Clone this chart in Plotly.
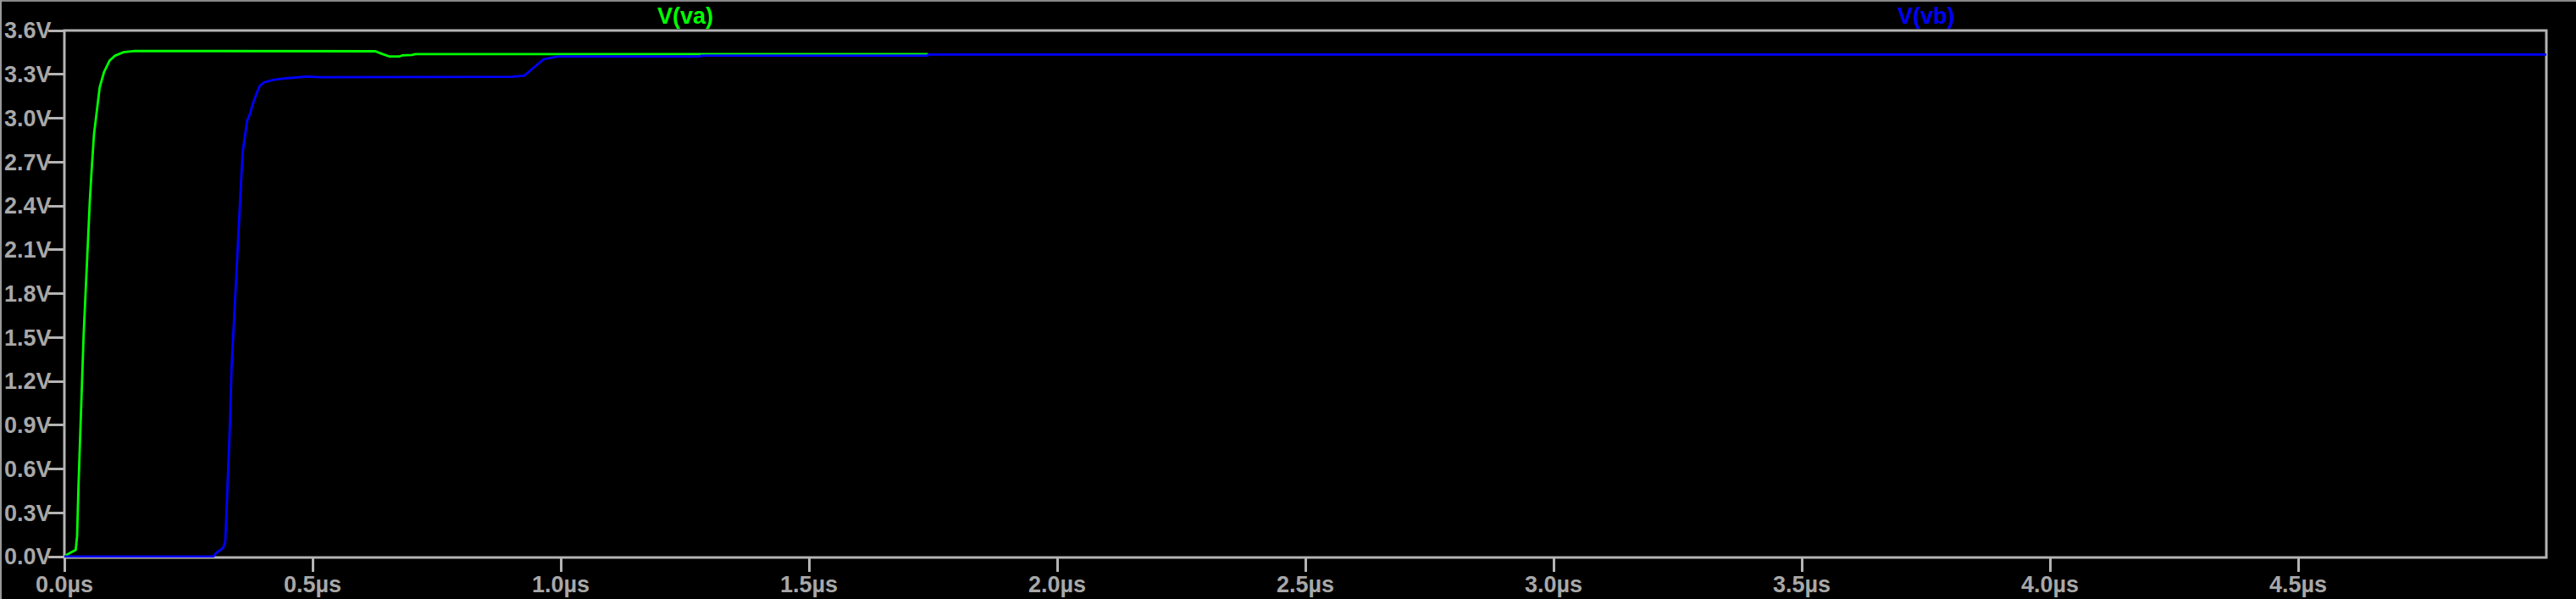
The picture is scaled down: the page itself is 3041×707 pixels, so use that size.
import plotly.graph_objects as go

# time (µs) and voltage (V) samples
t_va = [0, 0.0068, 0.0228, 0.0256, 0.0284, 0.0313, 0.0353, 0.0387, 0.0427, 0.0466,
        0.0512, 0.0552, 0.0597, 0.0654, 0.0711, 0.0796, 0.091, 0.102, 0.119, 0.142,
        0.626, 0.639, 0.655, 0.675, 0.681, 0.700, 0.707, 1.74]
v_va = [0, 0.017, 0.046, 0.14, 0.48, 0.826, 1.17, 1.51, 1.835, 2.13,
        2.43, 2.66, 2.89, 3.05, 3.21, 3.313, 3.394, 3.428, 3.451, 3.46,
        3.458, 3.441, 3.422, 3.422, 3.43, 3.433, 3.438, 3.438]

t_vb = [0, 0.2998, 0.3055, 0.3197, 0.3242, 0.3265, 0.330, 0.3339, 0.3367, 0.3402,
        0.3436, 0.347, 0.351, 0.3538, 0.3567, 0.3595, 0.364, 0.368, 0.3737, 0.3794,
        0.388, 0.3936, 0.4022, 0.422, 0.4505, 0.4886, 0.516, 0.89, 0.90, 0.926,
        0.9457, 0.9653, 0.979, 0.995, 1.281, 1.283, 1.739, 1.741, 5.0]
v_vb = [0, 0, 0.024, 0.058, 0.104, 0.276, 0.597, 0.941, 1.285, 1.514,
        1.743, 1.972, 2.248, 2.477, 2.614, 2.774, 2.889, 2.981, 3.027, 3.096,
        3.176, 3.221, 3.245, 3.263, 3.274, 3.285, 3.28, 3.28, 3.283, 3.29,
        3.349, 3.403, 3.413, 3.422, 3.422, 3.428, 3.428, 3.436, 3.436]

x_tickvals = [0, 0.5, 1.0, 1.5, 2.0, 2.5, 3.0, 3.5, 4.0, 4.5]
x_ticktext = ["0.0µs", "0.5µs", "1.0µs", "1.5µs", "2.0µs", "2.5µs", "3.0µs", "3.5µs", "4.0µs", "4.5µs"]
y_tickvals = [0, 0.3, 0.6, 0.9, 1.2, 1.5, 1.8, 2.1, 2.4, 2.7, 3.0, 3.3, 3.6]
y_ticktext = ["0.0V", "0.3V", "0.6V", "0.9V", "1.2V", "1.5V", "1.8V", "2.1V", "2.4V", "2.7V", "3.0V", "3.3V", "3.6V"]

trace_names = ["V(va)", "V(vb)"]
trace_colors = ["#00ff00", "#0000ff"]

FRAME = "#b4b4b4"
LABEL = "#a8a8a8"
FONT = "Liberation Sans, Arial, sans-serif"
FS = 27

fig = go.Figure()
fig.add_trace(go.Scatter(x=t_va, y=v_va, mode="lines", name=trace_names[0],
                         line=dict(color=trace_colors[0], width=2.8)))
fig.add_trace(go.Scatter(x=t_vb, y=v_vb, mode="lines", name=trace_names[1],
                         line=dict(color=trace_colors[1], width=2.8)))

fig.update_layout(
    width=3041, height=707, autosize=False,
    margin=dict(l=76, r=35, t=36, b=49, pad=0),
    paper_bgcolor="black", plot_bgcolor="black",
    showlegend=False,
    font=dict(family=FONT, size=FS, color=LABEL, weight="bold"),
    xaxis=dict(range=[0, 5], tickmode="array", tickvals=x_tickvals, ticktext=x_ticktext,
               showgrid=False, zeroline=False, showline=False, automargin=False,
               ticks="outside", ticklen=16, tickwidth=3, tickcolor=FRAME,
               tickfont=dict(family=FONT, size=FS, color=LABEL, weight="bold"),
               ticklabelstandoff=-8),
    yaxis=dict(range=[-0.0058, 3.6], tickmode="array", tickvals=y_tickvals, ticktext=y_ticktext,
               showgrid=False, zeroline=False, showline=False, automargin=False,
               ticks="outside", ticklen=18, tickwidth=3, tickcolor=FRAME,
               tickfont=dict(family=FONT, size=FS, color=LABEL, weight="bold"),
               ticklabelstandoff=-9),
)

# plot frame
fig.add_shape(type="rect", xref="paper", yref="paper", x0=0, x1=1, y0=0, y1=1,
              line=dict(color=FRAME, width=3), layer="below")
# outer window border (top and left)
fig.add_shape(type="line", xref="paper", yref="paper",
              x0=-76/2930, x1=(3041-76)/2930, y0=1+36/622, y1=1+36/622,
              line=dict(color="#888888", width=4))
fig.add_shape(type="line", xref="paper", yref="paper",
              x0=-76/2930, x1=-76/2930, y0=-49/622, y1=1+36/622,
              line=dict(color="#999999", width=4))

for name, color, xpos in zip(trace_names, trace_colors, [0.25, 0.75]):
    fig.add_annotation(text=name, xref="paper", yref="paper", x=xpos, y=1,
                       xanchor="center", yanchor="bottom", showarrow=False,
                       yshift=0,
                       font=dict(family=FONT, size=FS, color=color, weight="bold"))

fig.write_html(
    "out.html",
    config={"displayModeBar": False},
    post_script="document.body.style.margin='0';document.body.style.background='black';",
)
